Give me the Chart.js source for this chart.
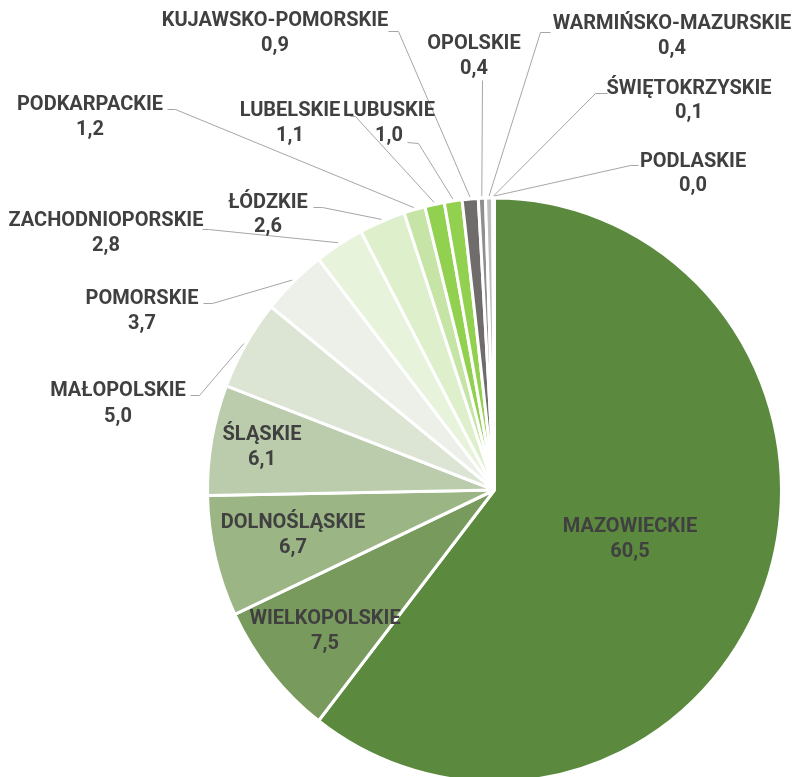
<!DOCTYPE html>
<html><head><meta charset="utf-8">
<script src="https://cdn.jsdelivr.net/npm/chart.js@4/dist/chart.umd.min.js"></script>
<style>html,body{margin:0;padding:0;background:#fff}canvas{display:block}</style>
</head><body>
<canvas id="c" width="796" height="777" style="width:796px;height:777px"></canvas>
<script>
// ---- data ----
const regions = ['MAZOWIECKIE','WIELKOPOLSKIE','DOLNOŚLĄSKIE','ŚLĄSKIE','MAŁOPOLSKIE','POMORSKIE',
  'ZACHODNIOPORSKIE','ŁÓDZKIE','PODKARPACKIE','LUBELSKIE','LUBUSKIE','KUJAWSKO-POMORSKIE',
  'OPOLSKIE','WARMIŃSKO-MAZURSKIE','ŚWIĘTOKRZYSKIE','PODLASKIE'];
const shares = [60.5,7.5,6.7,6.1,5.0,3.7,2.8,2.6,1.2,1.1,1.0,0.9,0.4,0.4,0.1,0.0];
const sliceColors = ['#5b8a3f','#789a5c','#9bb585','#baccab','#dce4d4','#edf0e9','#e8f3dc','#ddefcb',
  '#c6e4a6','#92d050','#92d050','#706c6c','#8f8f8f','#bfbfbf','#d9d9d9','#eeeeee'];

// ---- label layout (text centre x, name-line centre y, value-line centre y, leader attach & elbow) ----
const labelLayout = [
  {x:630, ny:525, vy:550},
  {x:325, ny:617, vy:642},
  {x:293, ny:521, vy:546},
  {x:262, ny:433, vy:458},
  {x:118, ny:389, vy:415, a:[190,395], e:[199,395]},
  {x:142, ny:297, vy:322, a:[203,303], e:[212,303]},
  {x:106, ny:219, vy:244, a:[202,229], e:[208,229]},
  {x:268, ny:201, vy:225, a:[313,207], e:[322,207]},
  {x:90,  ny:103, vy:128, a:[167,109], e:[175,109]},
  {x:290, ny:109, vy:134, a:[350,116], e:[355,116]},
  {x:389, ny:109, vy:134, a:[407,142], e:[418,143]},
  {x:275, ny:19,  vy:44,  a:[388,31],  e:[398,31]},
  {x:474, ny:42,  vy:67,  a:[482,80],  e:[482,80]},
  {x:672, ny:22,  vy:47,  a:[550,32],  e:[540,32]},
  {x:689, ny:87,  vy:111, a:[607,93],  e:[595,93]},
  {x:693, ny:160, vy:184, a:[638,165], e:[630,165]}
];

const SY = 290.5/285.5; // vertical stretch of the pie
const TEXT = '#404040';

const ellipsePlugin = {
  id:'ellipse',
  beforeDatasetsDraw(chart){
    const el = chart.getDatasetMeta(0).data[0];
    const ctx = chart.ctx;
    ctx.save();
    ctx.translate(el.x, el.y);
    ctx.scale(1, SY);
    ctx.translate(-el.x, -el.y);
  },
  afterDatasetsDraw(chart){ chart.ctx.restore(); }
};

const labelPlugin = {
  id:'labels',
  afterDraw(chart){
    const ctx = chart.ctx;
    const meta = chart.getDatasetMeta(0);
    ctx.save();
    // leaders
    ctx.strokeStyle = '#a6a6a6';
    ctx.lineWidth = 1;
    meta.data.forEach((arc, i) => {
      const L = labelLayout[i];
      if (!L.a) return;
      const p = arc.getProps(['x','y','startAngle','endAngle','outerRadius'], true);
      const mid = (p.startAngle + p.endAngle)/2;
      const r = p.outerRadius + 2;
      const px = p.x + Math.cos(mid)*r;
      const py = p.y + Math.sin(mid)*r*SY;
      ctx.beginPath();
      ctx.moveTo(L.a[0]+0.5, L.a[1]+0.5);
      ctx.lineTo(L.e[0]+0.5, L.e[1]+0.5);
      ctx.lineTo(px, py);
      ctx.stroke();
    });
    // texts
    ctx.fillStyle = TEXT;
    ctx.textAlign = 'center';
    ctx.textBaseline = 'alphabetic';
    ctx.font = 'bold 20px Roboto';
    regions.forEach((name, i) => {
      const L = labelLayout[i];
      ctx.fillText(name, L.x, L.ny + 7);
      ctx.fillText(shares[i].toFixed(1).replace('.', ','), L.x, L.vy + 7);
    });
    ctx.restore();
  }
};

new Chart(document.getElementById('c'), {
  type:'pie',
  data:{
    labels: regions,
    datasets:[{
      data: shares,
      backgroundColor: sliceColors,
      borderColor:'#ffffff',
      borderWidth:3,
      radius:287
    }]
  },
  options:{
    responsive:false,
    devicePixelRatio:1,
    animation:false,
    layout:{padding:{left:200,right:7,top:210,bottom:7}},
    plugins:{legend:{display:false},tooltip:{enabled:false}},
    events:[]
  },
  plugins:[ellipsePlugin,labelPlugin]
});
</script>
</body></html>
